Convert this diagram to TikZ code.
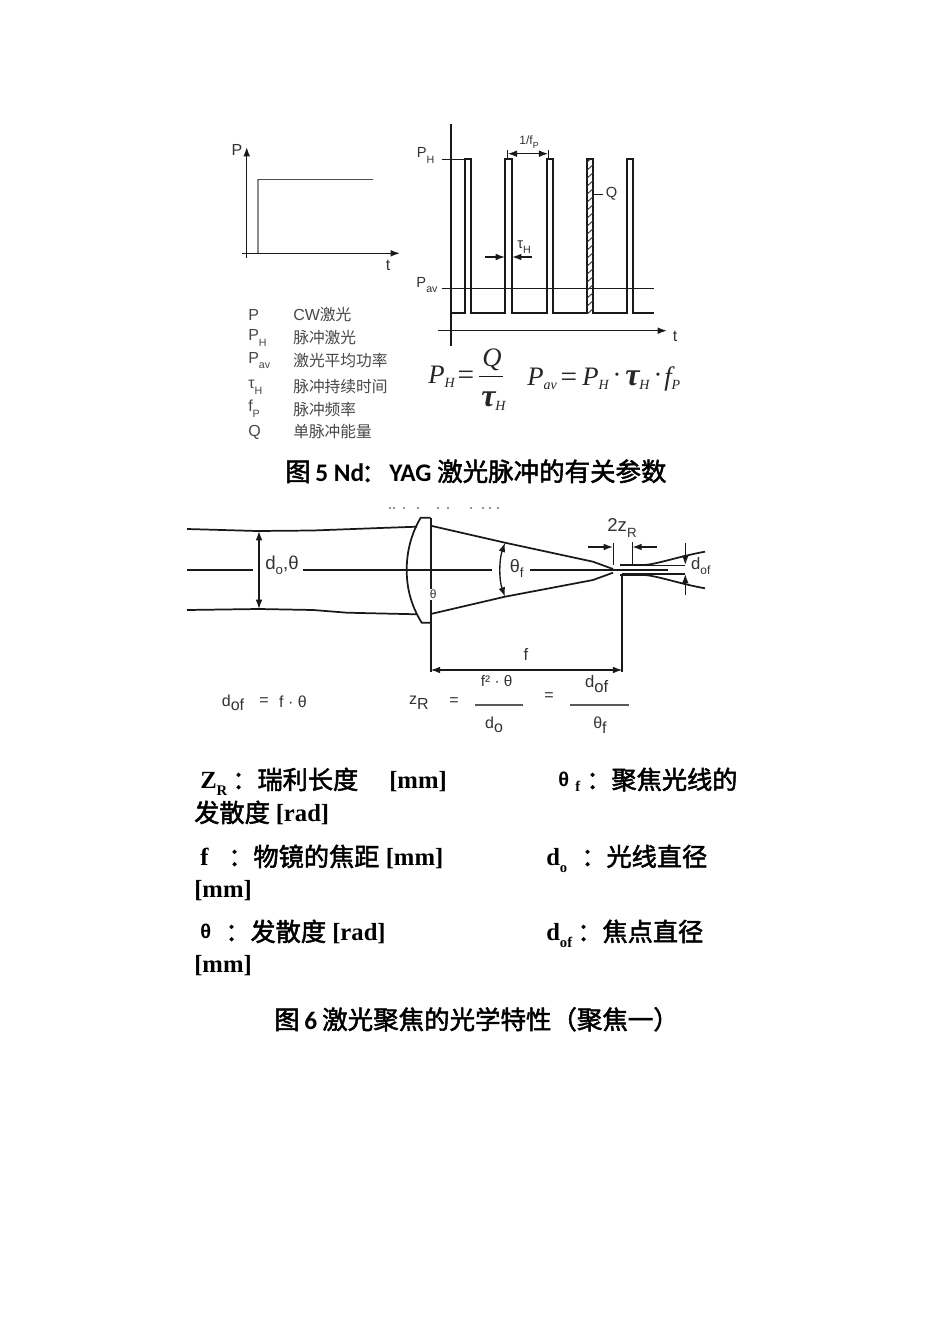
\documentclass[tikz,border=0pt]{standalone}
\usepackage{fontspec}
\usetikzlibrary{arrows.meta}
\setmainfont{Liberation Serif}
\setsansfont{Liberation Sans}
\newfontfamily\cjk{Noto Sans CJK SC}
\newfontfamily\cjkb[FakeBold=2]{Noto Sans CJK SC}
\newfontfamily\capfont{Carlito}
\newcommand{\fsz}[1]{\fontsize{#1}{#1}\selectfont}
\newcommand{\sbs}[1]{\raisebox{-0.35em}{\fontsize{8}{8}\selectfont #1}}
\newcommand{\bsb}[1]{\raisebox{-0.3em}{\fontsize{11}{11}\selectfont #1}}
\newcommand{\mi}[1]{{\itshape #1}}
\newcommand{\msub}[1]{\raisebox{-0.15em}{\fontsize{10.5}{10.5}\selectfont\itshape #1}}
\definecolor{lbl}{HTML}{333333}
\definecolor{leg}{HTML}{484848}
\tikzset{
  x=0.75pt,y=-0.75pt,
  plotline/.style={line width=1.3pt,black!90},
  thinline/.style={line width=1pt,black!90},
  arr/.style={-{Latex[length=7pt,width=5pt]},line width=1pt,black!90},
  arrb/.style={{Latex[length=7pt,width=5pt]}-{Latex[length=7pt,width=5pt]},line width=1pt,black!90},
  lab/.style={inner sep=0pt,font=\sffamily\fsz{11},text=lbl},
  big/.style={inner sep=0pt,font=\sffamily\fsz{14},text=lbl},
  legl/.style={inner sep=0pt,anchor=west,font=\sffamily\fsz{12},text=leg},
  legc/.style={inner sep=0pt,anchor=west,font=\cjk\fsz{11.8},text=leg},
  frm/.style={inner sep=0pt,font=\fsz{20},text=black!85},
  body/.style={inner sep=0pt,anchor=base west,font=\bfseries\fsz{18.5}},
  bodyc/.style={inner sep=0pt,anchor=base west,font=\cjkb\fsz{18.9}},
  capt/.style={inner sep=0pt,anchor=base west,font=\capfont\bfseries\fsz{19}},
  capc/.style={inner sep=0pt,anchor=base west,font=\cjkb\fsz{19.1}},
}
\begin{document}
\begin{tikzpicture}
\path[use as bounding box,fill=white] (0,0) rectangle (950,1344);

% --- CW plot
\draw[arr] (246.7,258) -- (246.7,147);
\draw[arr] (242,253.3) -- (400,253.3);
\draw[line width=1.2pt,black!45] (258,253) -- (258,179.3);
\draw[thinline,black!70] (258,179.3) -- (372.7,179.3);
\node[lab,font=\sffamily\fsz{12}] (lP) at (237,150) {P};
\node[lab,font=\sffamily\fsz{12}] (lt) at (388,265) {t};

% --- legend
\node[legl] (k1) at (248,315) {P};
\node[legc,font=\sffamily\fsz{12},text=leg] (v1) at (293,315) {CW{\cjk\fsz{11.8}激光}};
\node[legl] (k2) at (248,338) {P\sbs{H}};
\node[legc] (v2) at (293,338) {脉冲激光};
\node[legl] (k3) at (248,360.5) {P\sbs{av}};
\node[legc] (v3) at (293,360.5) {激光平均功率};
\node[legl] (k4) at (248,387) {τ\sbs{H}};
\node[legc] (v4) at (293,387) {脉冲持续时间};
\node[legl] (k5) at (248,409) {f\sbs{P}};
\node[legc] (v5) at (293,409) {脉冲频率};
\node[legl] (k6) at (248,432) {Q};
\node[legc] (v6) at (293,432) {单脉冲能量};

% --- pulse plot
\draw[plotline] (451.3,124) -- (451.3,346);
\draw[arr] (438,330.7) -- (667,330.7);
\draw[thinline] (441.7,159.3) -- (464.7,159.3);
\draw[thinline] (441.7,288.3) -- (654,288.3);
\draw[plotline,line join=miter] (451.3,313.3) -- (464.7,313.3) -- (464.7,159.3) -- (471,159.3) -- (471,313.3)
  -- (505.3,313.3) -- (505.3,159.3) -- (511.7,159.3) -- (511.7,313.3)
  -- (546.7,313.3) -- (546.7,159.3) -- (552.7,159.3) -- (552.7,313.3)
  -- (586.7,313.3) -- (586.7,159.3) -- (593,159.3) -- (593,313.3)
  -- (627.3,313.3) -- (627.3,159.3) -- (633.3,159.3) -- (633.3,313.3) -- (654,313.3);
\begin{scope}
\clip (586.7,159.3) rectangle (593,313.3);
\foreach \yy in {160,168,...,320}{
  \draw[line width=0.7pt,black!80] (585,\yy+4) -- (595,\yy-5);
}
\end{scope}
\draw[thinline] (507.7,150) -- (507.7,160);
\draw[thinline] (548.3,150) -- (548.3,160);
\draw[arrb] (507.7,153.7) -- (548.3,153.7);
\draw[thinline] (593,194.3) -- (603,194.3);
\draw[arr] (484.7,257) -- (505,257);
\draw[arr] (532,257) -- (512,257);
\node[lab] (pH) at (425.5,155.5) {P\sbs{H}};
\node[lab] (pav) at (427,285) {P\sbs{av}};
\node[lab,font=\sffamily\fsz{12}] (t2) at (675,336) {t};
\node[lab,font=\sffamily\fsz{9}] (ifp) at (529,142) {1/f\raisebox{-0.3em}{\fontsize{6.5}{6.5}\selectfont P}};
\node[lab] (Q) at (611.5,194) {Q};
\node[lab] (tH) at (524,247.5) {τ\sbs{H}};

% --- pulse formulas
\node[frm,anchor=base west] (f1) at (428,383) {\mi{P}\msub{H}};
\node[frm,font=\fsz{22}] (f2) at (466,378) {=};
\node[frm] (f3) at (492,360) {\mi{Q}};
\draw[thinline] (479,376.7) -- (503,376.7);
\node[frm,anchor=base west] (f4) at (481,406) {{\fsz{24}\bfseries\itshape τ}\msub{H}};
\node[frm,anchor=base west] (f5) at (527,385) {\mi{P}\msub{av}};
\node[frm,font=\fsz{22}] (f6) at (569,380) {=};
\node[frm,anchor=base west] (f7) at (582,385) {\mi{P}\msub{H}};
\node[frm] (f8) at (617,378) {·};
\node[frm,anchor=base west] (f9) at (625,385) {{\fsz{24}\bfseries\itshape τ}\msub{H}};
\node[frm] (f10) at (658,378) {·};
\node[frm,anchor=base west] (f11) at (664,385) {\mi{f}\msub{P}};

% --- caption 5
\node[capc] (c5a) at (285,481) {图};
\node[capt] (c5b) at (315,481) {5 Nd};
\node[capc] (c5c) at (361,482) {：};
\node[capt] (c5d) at (389,481) {YAG};
\node[capc] (c5e) at (437,481) {激光脉冲的有关参数};

% --- faint remains of a cut-off line
\foreach \xx in {389,393,403,417,437,447,470,482,489,497}{
  \fill[black!40] (\xx,507) rectangle (\xx+2,508.5);
}

% --- lens: incoming beam
\draw[plotline] (187,529) -- (257,531) -- (313,530.5) -- (380,528) -- (417,526.7);
\draw[plotline] (187,610) -- (259,609) -- (313,610) -- (347,612.7) -- (417,614.3);
\draw[thinline] (187,570) -- (253,570);
\draw[thinline] (303,570) -- (491.7,570);
\draw[thinline] (530,570) -- (668,570);
\draw[line width=1pt,black!55] (259,540) -- (259,600);
\draw[arrb] (259,531) -- (259,609);
\node[big] (do) at (282,565) {d\raisebox{-0.28em}{\fontsize{10}{10}\selectfont o},θ};
% lens
\draw[plotline] (430.7,517.7) -- (420.7,517.7) .. controls (411,534) and (406.7,552) .. (406.7,570)
  .. controls (406.7,590) and (412,607) .. (421.7,622.7) -- (430.7,622.7);
\draw[plotline] (430.7,517.7) -- (430.7,589);
\draw[plotline] (430.7,600) -- (430.7,671.7);
\node[lab,font=\sffamily\fsz{9}] (th) at (433.3,594) {θ};
% --- outgoing beam
\draw[plotline] (430.7,525.7) -- (505,542.7) -- (593,561.7) -- (613,569);
\draw[plotline] (430.7,614) -- (505,596.7) -- (593,580) -- (613,572.7);
\draw[plotline] (620,565) -- (643,565) .. controls (655,565) and (680,556) .. (705,551.7);
\draw[plotline] (620,575) -- (643,575) .. controls (655,575) and (680,584) .. (705,588.3);
\draw[thinline] (632,565.7) -- (685,565.7);
\draw[thinline] (622,574) -- (685,574);
\draw[plotline] (622.3,575) -- (622.3,671.7);
\draw[thinline] (613.3,542.7) -- (613.3,565);
\draw[thinline] (632.3,542) -- (632.3,565);
\draw[arr] (588,547) -- (613,547);
\draw[arr] (657,547) -- (632.3,547);
\draw[arr] (685.3,543) -- (685.3,565);
\draw[arr] (685.3,595) -- (685.3,574);
\draw[arrb] (505,542.7) .. controls (499,560) and (499,580) .. (505,596.7);
\draw[arrb] (430.7,670) -- (622.3,670);
\node[big] (zz) at (622,528) {2z\raisebox{-0.28em}{\fontsize{10}{10}\selectfont R}};
\node[lab,font=\sffamily\fsz{12.5}] (dof) at (700.7,566) {d\raisebox{-0.28em}{\fontsize{9}{9}\selectfont of}};
\node[lab,font=\sffamily\fsz{13.5}] (thf) at (516.7,568) {θ\raisebox{-0.28em}{\fontsize{10}{10}\selectfont f}};
\node[lab,font=\sffamily\fsz{12.5}] (fl) at (526,654) {f};

% --- lens formulas
\node[lab,font=\sffamily\fsz{12}] (e1) at (233,703) {d\raisebox{-0.28em}{of}};
\node[lab,font=\sffamily\fsz{12}] (e2) at (264,702) {=};
\node[lab,font=\sffamily\fsz{12}] (e3) at (293,702) {f · θ};
\node[lab,font=\sffamily\fsz{12}] (e4) at (419,703) {z\raisebox{-0.28em}{R}};
\node[lab,font=\sffamily\fsz{12}] (e5) at (454,702) {=};
\node[lab,font=\sffamily\fsz{11.5}] (e6) at (496.7,681) {f² · θ};
\draw[line width=0.8pt,black!65] (475,705) -- (523,705);
\node[lab,font=\sffamily\fsz{12}] (e7) at (494,725) {d\raisebox{-0.28em}{o}};
\node[lab,font=\sffamily\fsz{12}] (e8) at (549,697) {=};
\node[lab,font=\sffamily\fsz{12.5}] (e9) at (596.7,684) {d\raisebox{-0.28em}{of}};
\draw[line width=0.8pt,black!65] (570,705) -- (629,705);
\node[lab,font=\sffamily\fsz{12}] (e10) at (600,725) {θ\raisebox{-0.28em}{f}};

% --- explanation text
\node[body] (a1) at (200,788) {Z\bsb{R}};
\node[bodyc] (a2) at (232,789) {：瑞利长度};
\node[body] (a3) at (389,788) {[mm]};
\node[bodyc,font=\sffamily\bfseries\fsz{15}] (a4) at (558,786) {θ};
\node[body,font=\bfseries\fsz{11}] (a5) at (575,791) {f};
\node[bodyc] (a6) at (586,789) {：聚焦光线的};
\node[bodyc] (b1) at (194,822) {发散度};
\node[body] (b2) at (275.5,821) {[rad]};
\node[body] (c1) at (200,865) {f};
\node[bodyc] (c2) at (228,866) {：物镜的焦距};
\node[body] (c3) at (385.5,865) {[mm]};
\node[body] (c4) at (546,865) {d\bsb{o}};
\node[bodyc] (c5) at (581,866) {：光线直径};
\node[body] (d1) at (194,897) {[mm]};
\node[bodyc,font=\sffamily\bfseries\fsz{15}] (g1) at (200,938) {θ};
\node[bodyc] (g2) at (225,941) {：发散度};
\node[body] (g3) at (332,940) {[rad]};
\node[body] (g4) at (546,940) {d\bsb{of}};
\node[bodyc] (g5) at (577,941) {：焦点直径};
\node[body] (h1) at (194,972) {[mm]};

% --- caption 6
\node[capc] (c6a) at (274,1029) {图};
\node[capt] (c6b) at (304,1029) {6};
\node[capc] (c6c) at (322,1029) {激光聚焦的光学特性（聚焦一）};
\end{tikzpicture}
\end{document}
